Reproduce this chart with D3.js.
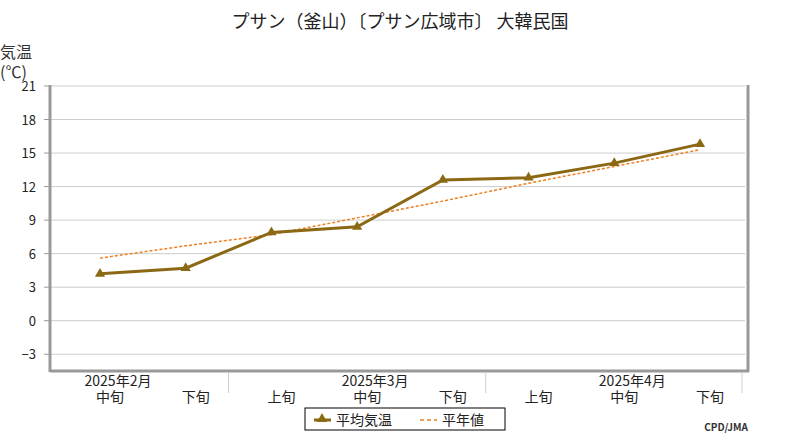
<!DOCTYPE html>
<html><head><meta charset="utf-8">
<script src="https://cdn.jsdelivr.net/npm/d3@7"></script>
<style>body{margin:0;background:#fff}text{font-family:"Noto Sans CJK JP",sans-serif}</style>
</head><body><svg id="c" width="800" height="440"></svg>
<script>
const dekads = ["中旬","下旬","上旬","中旬","下旬","上旬","中旬","下旬"];
const months = [{label:"2025年2月",i:0},{label:"2025年3月",i:3},{label:"2025年4月",i:6}];
const avgTemp = [4.2, 4.7, 7.9, 8.4, 12.6, 12.8, 14.1, 15.8];
const normal = [5.6, 6.7, 7.7, 9.2, 10.7, 12.3, 13.8, 15.3];
const yTicks = [-3,0,3,6,9,12,15,18,21];

const svg = d3.select("#c");
const L=50,R=745,T=86,B=371;
const x = d3.scalePoint().domain(d3.range(8)).range([100,700]);
const y = d3.scaleLinear().domain([-4.5,21]).range([B,T]);

svg.append("text").attr("x",400).attr("y",28).attr("text-anchor","middle").attr("font-size",18).attr("fill","#222")
  .text("プサン（釜山）〔プサン広域市〕 大韓民国");
svg.append("text").attr("x",0).attr("y",58).attr("font-size",16).attr("fill","#333").text("気温");
svg.append("text").attr("x",0).attr("y",78).attr("font-size",16).attr("fill","#333").text("(℃)");

svg.selectAll(".g").data(yTicks).join("line").attr("x1",L).attr("x2",R)
  .attr("y1",d=>y(d)).attr("y2",d=>y(d)).attr("stroke","#ccc");
svg.selectAll(".tk").data(yTicks).join("line").attr("x1",L-6).attr("x2",L)
  .attr("y1",d=>y(d)).attr("y2",d=>y(d)).attr("stroke","#999");
svg.selectAll(".yl").data(yTicks).join("text").attr("x",36).attr("y",d=>y(d)+5)
  .attr("text-anchor","end").attr("font-size",13).attr("fill","#222").text(d=>d<0?"−"+(-d):d);
svg.append("line").attr("x1",L).attr("x2",L).attr("y1",T-1).attr("y2",B+1).attr("stroke","#999").attr("stroke-width",3);
svg.append("line").attr("x1",L).attr("x2",R+4).attr("y1",B).attr("y2",B).attr("stroke","#999").attr("stroke-width",3);
svg.append("line").attr("x1",R+3).attr("x2",R+3).attr("y1",T-1).attr("y2",B+1).attr("stroke","#999").attr("stroke-width",3);
[(x(1)+x(2))/2,(x(4)+x(5))/2,R-3].forEach(xv=>{
  svg.append("line").attr("x1",xv).attr("x2",xv).attr("y1",B+2).attr("y2",B+22).attr("stroke","#ccc");});

svg.selectAll(".dl").data(dekads).join("text").attr("x",(d,i)=>x(i)+10).attr("y",402)
  .attr("text-anchor","middle").attr("font-size",14).attr("fill","#222").text(d=>d);
svg.selectAll(".ml").data(months).join("text").attr("x",d=>x(d.i)+18).attr("y",386)
  .attr("text-anchor","middle").attr("font-size",14).attr("fill","#222").text(d=>d.label);

const line=d3.line().x((d,i)=>x(i)).y(d=>y(d));
svg.append("path").attr("d",line(normal)).attr("fill","none").attr("stroke","#f07f1f").attr("stroke-width",1.5).attr("stroke-dasharray","3,2");
svg.append("path").attr("d",line(avgTemp)).attr("fill","none").attr("stroke","#8b6914").attr("stroke-width",3);
const tri=d3.symbol().type(d3.symbolTriangle).size(45);
svg.selectAll(".m").data(avgTemp).join("path").attr("d",tri).attr("fill","#8b6914")
  .attr("transform",(d,i)=>`translate(${x(i)},${y(d)})`);

const lg=svg.append("g");
lg.append("rect").attr("x",305).attr("y",408).attr("width",200).attr("height",22).attr("fill","#fff").attr("stroke","#000");
lg.append("line").attr("x1",314).attr("x2",331).attr("y1",420).attr("y2",420).attr("stroke","#8b6914").attr("stroke-width",3);
lg.append("path").attr("d",tri).attr("fill","#8b6914").attr("transform","translate(322,419)");
lg.append("text").attr("x",336).attr("y",425).attr("font-size",14).attr("fill","#222").text("平均気温");
lg.append("line").attr("x1",420).attr("x2",437).attr("y1",420).attr("y2",420).attr("stroke","#f07f1f").attr("stroke-width",1.5).attr("stroke-dasharray","4,3");
lg.append("text").attr("x",442).attr("y",425).attr("font-size",14).attr("fill","#222").text("平年値");
svg.append("text").attr("x",748).attr("y",431).attr("text-anchor","end").attr("font-size",10).attr("font-weight","bold").attr("fill","#333").text("CPD/JMA");
</script></body></html>
